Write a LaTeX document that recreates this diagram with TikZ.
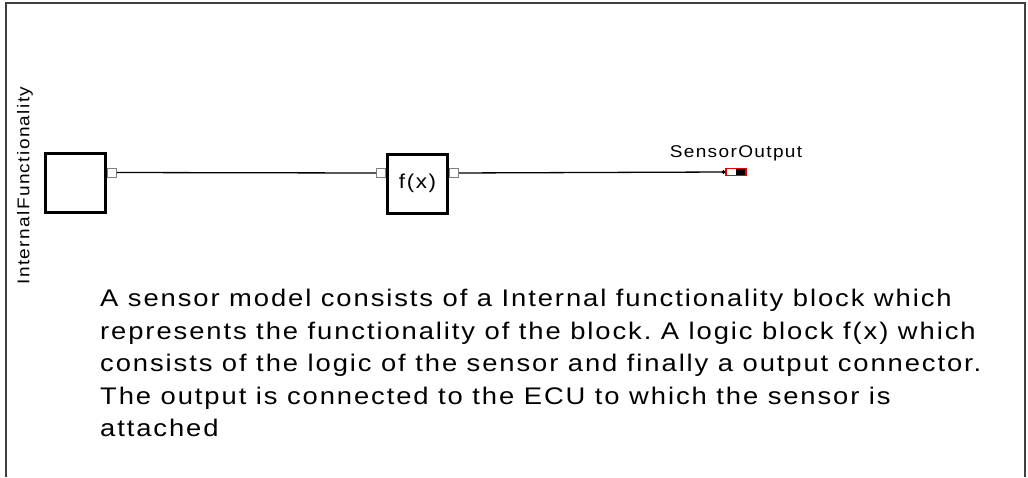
\documentclass[tikz,border=0pt]{standalone}
\usepackage{fontspec}
\setmainfont{Liberation Sans}
\newfontfamily\diagfont[FakeStretch=1.12,LetterSpace=8]{Liberation Sans}
\newfontfamily\notefont[FakeStretch=1.14,LetterSpace=8]{Liberation Sans}
\usetikzlibrary{arrows.meta,positioning}
\definecolor{framegray}{RGB}{64,64,64}
\definecolor{portgray}{RGB}{128,128,128}
\definecolor{connred}{RGB}{230,0,0}
\frenchspacing

\begin{document}
\begin{tikzpicture}[
    x=1pt, y=-1pt,
    block/.style={rectangle, draw=black, line width=3pt, fill=white, minimum width=60pt, minimum height=59pt, inner sep=0pt, font=\diagfont\fontsize{20}{22}\selectfont},
    port/.style={rectangle, draw=portgray, line width=1pt, fill=white, minimum size=9pt, inner sep=0pt},
    outconn/.style={rectangle, draw=connred, line width=1.5pt, fill=white, minimum width=20pt, minimum height=7pt, inner sep=0pt,
        path picture={\fill[black] (path picture bounding box.north) rectangle (path picture bounding box.south east);}},
    wire/.style={line width=1.3pt, black},
    label/.style={font=\diagfont\fontsize{17}{19}\selectfont, inner sep=0pt},
    note/.style={font=\notefont\fontsize{24}{32.5}\selectfont, align=left, inner sep=0pt}
]
\useasboundingbox (0,0) rectangle (1028,477);

% Frame
\draw[framegray, line width=1.5pt] (6,477) -- (6,3) -- (1025,3) -- (1025,477);

% Internal functionality block
\node[block] (intf) at (75,183) {};
\node[port, anchor=west] (intfout) at ([yshift=-20.5pt]intf.north east) {};
\node[label, rotate=90] (intflabel) at (25,185.5) {InternalFunctionality};

% Logic block
\node[block] (logic) at (417.5,183.5) {f(x)};
\node[port, anchor=east] (logicin) at ([yshift=-20.5pt]logic.north west) {};
\node[port, anchor=west] (logicout) at ([yshift=-20.5pt]logic.north east) {};

% Output connector
\node[outconn] (sensorout) at (736,172) {};
\node[label, above=6.5pt of sensorout] (sensorlabel) {SensorOutput};

% Wires
\draw[wire] (intfout) -- (logicin);
\draw[wire, -{Circle[length=3.5pt]}] (logicout) -- (sensorout.west);

% Description
\node[note, anchor=north west] (desc) at (100,289) {A sensor model consists of a Internal functionality block which\\
represents the functionality of the block. A logic block f(x) which\\
consists of the logic of the sensor and finally a output connector.\\
The output is connected to the ECU to which the sensor is\\
attached};

\end{tikzpicture}
\end{document}
